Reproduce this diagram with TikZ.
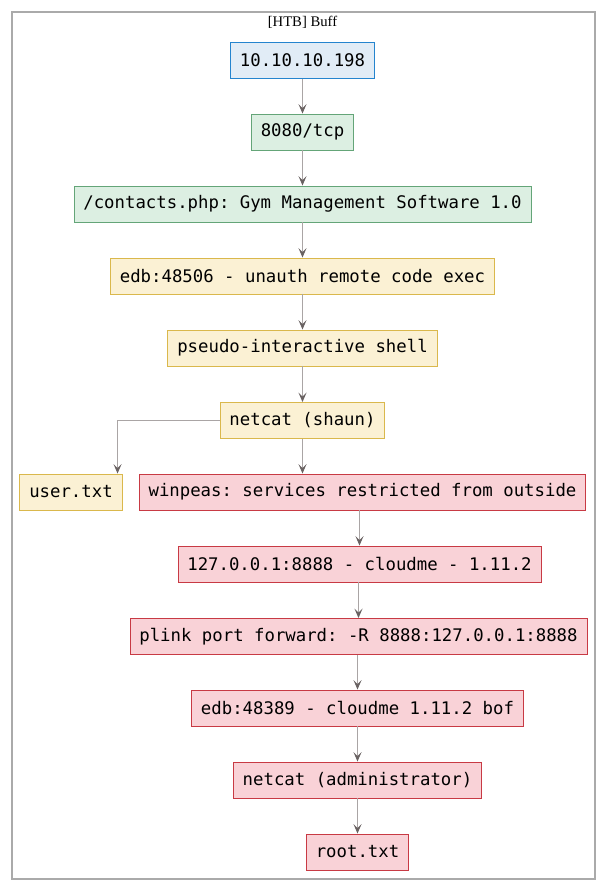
\documentclass[tikz,border=0pt]{standalone}
\usepackage{fontspec}
\setmonofont{DejaVu Sans Mono}
\newfontfamily\titlefont{Liberation Serif}
\usetikzlibrary{arrows.meta}
\definecolor{hostfill}{RGB}{225,236,246}
\definecolor{hostdraw}{RGB}{36,132,206}
\definecolor{svcfill}{RGB}{220,239,226}
\definecolor{svcdraw}{RGB}{100,165,120}
\definecolor{expfill}{RGB}{251,241,212}
\definecolor{expdraw}{RGB}{218,184,76}
\definecolor{privfill}{RGB}{249,210,215}
\definecolor{privdraw}{RGB}{200,58,68}
\definecolor{edgeline}{RGB}{170,165,165}
\definecolor{edgehead}{RGB}{105,98,98}
\definecolor{clusterline}{RGB}{170,170,170}
\tikzset{
  box/.style={draw, rectangle, minimum height=27pt, inner xsep=7pt, inner ysep=0pt,
    font=\ttfamily\fontsize{13}{15}\selectfont, line width=0.7pt},
  host/.style={box, fill=hostfill, draw=hostdraw},
  svc/.style={box, fill=svcfill, draw=svcdraw},
  expl/.style={box, fill=expfill, draw=expdraw},
  priv/.style={box, fill=privfill, draw=privdraw},
  flow/.style={draw=edgeline, line width=0.8pt,
    -{Stealth[length=7pt,width=6pt,inset=3pt,color=edgehead]}}
}

\begin{document}
\begin{tikzpicture}[x=0.75pt,y=0.75pt,yscale=-1,xscale=1]
\useasboundingbox (0,0) rectangle (607,891);
% cluster
\draw [clusterline, line width=0.9pt] (12,12) rectangle (595,879);
\node (title) at (302.5,22) [inner sep=0pt] {\titlefont\fontsize{11}{13}\selectfont [HTB] Buff};
% nodes
\node (ip) at (302.5,60.5) [host] {10.10.10.198};
\node (tcp) at (302.5,132) [svc] {8080/tcp};
\node (gym) at (302.5,204) [svc] {/contacts.php: Gym Management Software 1.0};
\node (edbone) at (302.5,276) [expl] {edb:48506 - unauth remote code exec};
\node (pseudo) at (302.5,348) [expl] {pseudo-interactive shell};
\node (shaun) at (302.5,420.5) [expl] {netcat (shaun)};
\node (user) at (71,492) [expl] {user.txt};
\node (winpeas) at (362.5,492) [priv] {winpeas: services restricted from outside};
\node (cloudme) at (359.5,564) [priv] {127.0.0.1:8888 - cloudme - 1.11.2};
\node (plink) at (358.5,636.5) [priv] {plink port forward: -R 8888:127.0.0.1:8888};
\node (edbtwo) at (357.5,708) [priv] {edb:48389 - cloudme 1.11.2 bof};
\node (admin) at (357.5,780) [priv] {netcat (administrator)};
\node (root) at (357.5,852) [priv] {root.txt};
% edges
\draw [flow] (ip) -- (tcp);
\draw [flow] (tcp) -- (gym);
\draw [flow] (gym) -- (edbone);
\draw [flow] (edbone) -- (pseudo);
\draw [flow] (pseudo) -- (shaun);
\draw [flow] (shaun.west) -| ([xshift=34.9pt]user.north);
\draw [flow] (shaun.south) -- (shaun.south |- winpeas.north);
\draw [flow] (winpeas.south -| cloudme.north) -- (cloudme.north);
\draw [flow] (cloudme.south -| plink.north) -- (plink.north);
\draw [flow] (plink.south -| edbtwo.north) -- (edbtwo.north);
\draw [flow] (edbtwo.south -| admin.north) -- (admin.north);
\draw [flow] (admin.south -| root.north) -- (root.north);
\end{tikzpicture}
\end{document}
